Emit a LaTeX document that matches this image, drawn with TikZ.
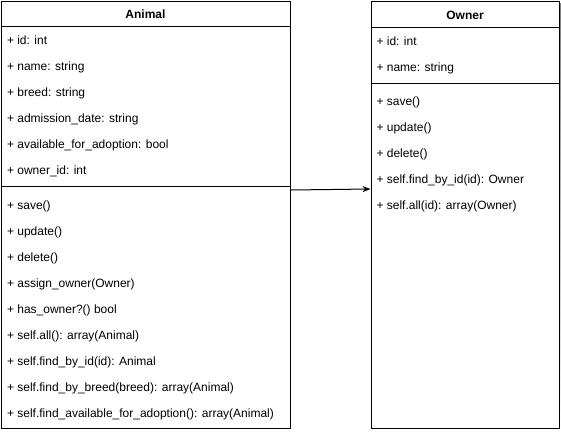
\documentclass[tikz,border=0pt]{standalone}
\usepackage{fontspec}
\setmainfont{Liberation Sans}
\usetikzlibrary{
  positioning,
  arrows.meta
}
\definecolor{shade}{HTML}{A0A0A0}

\begin{document}
\begin{tikzpicture}[x=1pt, y=-1pt, line width=1pt,
  classbox/.style={draw, fill=white, anchor=north west, inner sep=0pt},
  title/.style={font=\bfseries\fontsize{12}{14}\selectfont, anchor=base, inner sep=0pt},
  member/.style={font=\fontsize{12}{14}\selectfont, anchor=base west, inner sep=0pt},
  assoc/.style={-{Stealth[length=8pt, width=6pt]}}
]
  \useasboundingbox (0,0) rectangle (561,431);

  % Animal class
  \node[classbox, minimum width=289pt, minimum height=427pt] (animal) at (1,1) {};
  \draw (1,26) -- (290,26);
  \draw (1,186) -- (290,186);
  \node[title] (animaltitle) at (145.5,18.5) {Animal};

  \node[member] (aid)    at (6.5,44.5)  {+ id: int};
  \node[member] (aname)  at (6.5,70.5)  {+ name: string};
  \node[member] (abreed) at (6.5,96.5)  {+ breed: string};
  \node[member] (adate)  at (6.5,122.5) {+ admission\_date: string};
  \node[member] (aavail) at (6.5,148.5) {+ available\_for\_adoption: bool};
  \node[member] (aowner) at (6.5,174.5) {+ owner\_id: int};

  \node[member] (asave)    at (6.5,209) {+ save()};
  \node[member] (aupdate)  at (6.5,235) {+ update()};
  \node[member] (adelete)  at (6.5,261) {+ delete()};
  \node[member] (aassign)  at (6.5,287) {+ assign\_owner(Owner)};
  \node[member] (ahas)     at (6.5,313) {+ has\_owner?() bool};
  \node[member] (aall)     at (6.5,339) {+ self.all(): array(Animal)};
  \node[member] (afindid)  at (6.5,365) {+ self.find\_by\_id(id): Animal};
  \node[member] (afindbr)  at (6.5,391) {+ self.find\_by\_breed(breed): array(Animal)};
  \node[member] (afindav)  at (6.5,417) {+ self.find\_available\_for\_adoption(): array(Animal)};

  % Owner class
  \fill[shade] (372.5,3) rectangle (561,430);
  \node[classbox, minimum width=188.5pt, minimum height=427pt] (owner) at (370.5,1) {};
  \draw (370.5,27) -- (559,27);
  \draw (370.5,83) -- (559,83);
  \node[title] (ownertitle) at (465,19.5) {Owner};

  \node[member] (oid)   at (376,45.5) {+ id: int};
  \node[member] (oname) at (376,71.5) {+ name: string};

  \node[member] (osave)   at (376,105.5) {+ save()};
  \node[member] (oupdate) at (376,131.5) {+ update()};
  \node[member] (odelete) at (376,157.5) {+ delete()};
  \node[member] (ofindid) at (376,183.5) {+ self.find\_by\_id(id): Owner};
  \node[member] (oall)    at (376,209.5) {+ self.all(id): array(Owner)};

  % association
  \draw[assoc] (animal.east |- 0,190) -- (owner.west |- 0,189);
\end{tikzpicture}
\end{document}
